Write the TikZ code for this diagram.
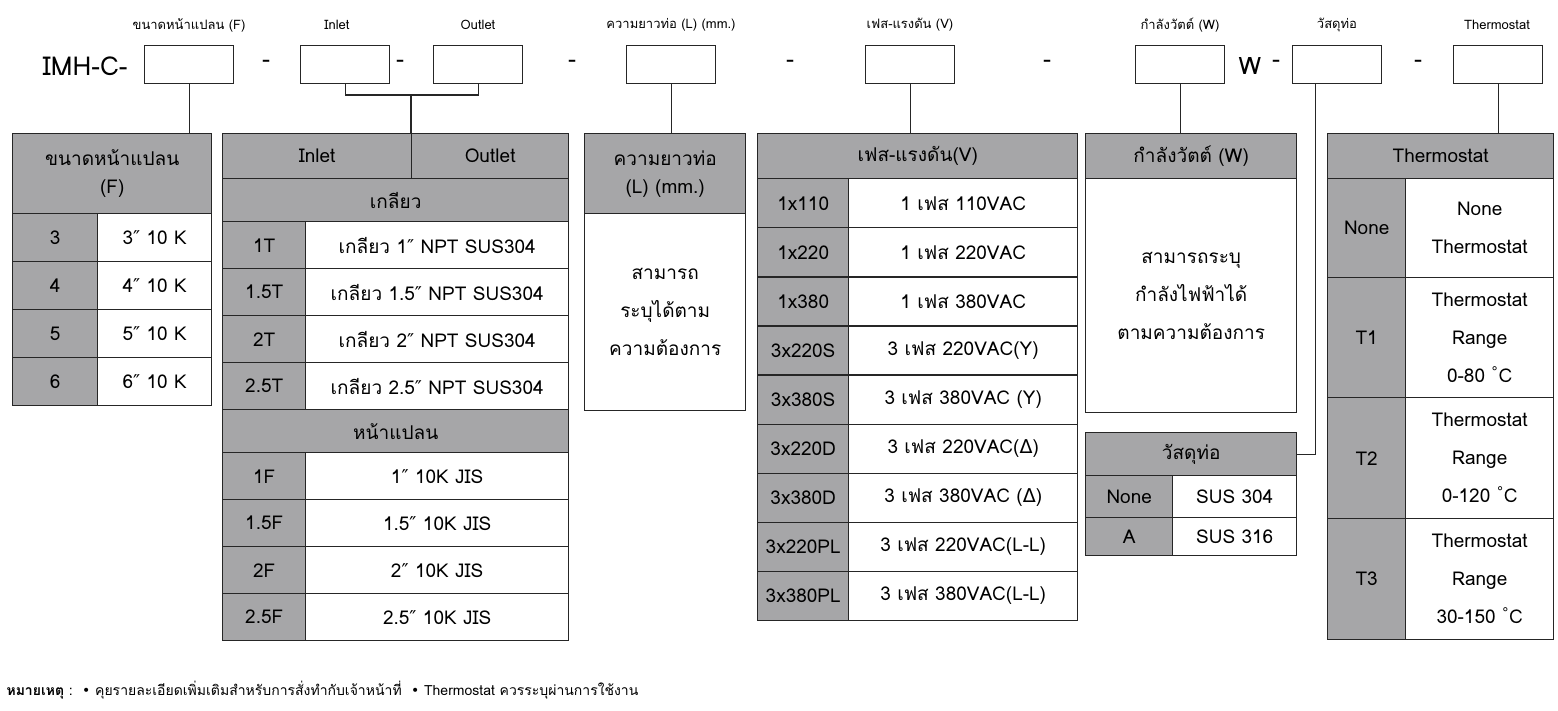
\documentclass[tikz,border=0pt]{standalone}
\usepackage{fontspec}
\setmainfont{Loma}[Script=Thai]
\newfontfamily\symf{DejaVu Sans}
\usetikzlibrary{positioning}

\definecolor{cellgray}{rgb}{0.650000, 0.650000, 0.660000}
\newcommand{\inch}{{\symf\char"2033}}
\newcommand{\dlt}{{\symf\char"0394}}
\newcommand{\degc}{\textsuperscript{\symf\char"00B0}C}

\tikzset{
  box/.style={draw=black!85, line width=1.4pt, fill=white, inner sep=0pt, anchor=north west},
  key/.style={box, fill=cellgray},
  txt/.style={font=\fontsize{19}{38}\selectfont, align=center},
  top/.style={font=\fontsize{13}{15}\selectfont},
  link/.style={draw=black!85, line width=1.4pt}
}

% cell: name, x, y, width, height, style, text
\newcommand{\cell}[7]{\node[#6, txt, minimum width=#4pt, minimum height=#5pt] (#1) at (#2,#3) {#7};}

\begin{document}
\begin{tikzpicture}[x=1pt, y=-1pt]
\useasboundingbox (0,0) rectangle (1558,711);

% top code line
\node[anchor=east, font=\fontsize{26}{28}\selectfont] (code) at (131,66) {IMH-C-};
\foreach \nm/\xx in {b1/144, b2/300, b3/433, b4/626, b5/865, b6/1135, b7/1292, b8/1453}
  \node[box, minimum width=89pt, minimum height=38pt] (\nm) at (\xx,45) {};
\foreach \nm/\xx in {d1/266, d2/400, d3/572, d4/790, d5/1047, d6/1276, d7/1418}
  \node[font=\fontsize{24}{26}\selectfont] (\nm) at (\xx,64) {-};
\node[font=\fontsize{24}{26}\selectfont] (wlet) at (1250,66) {W};

% top labels
\node[top] (lf) at (189,25) {ขนาดหน้าแปลน (F)};
\node[top] (li) at (337,25) {Inlet};
\node[top] (lo) at (478,25) {Outlet};
\node[top] (ll) at (671,25) {ความยาวท่อ (L) (mm.)};
\node[top] (lv) at (910,25) {เฟส-แรงดัน (V)};
\node[top] (lw) at (1180,25) {กำลังวัตต์ (W)};
\node[top] (lm) at (1337,25) {วัสดุท่อ};
\node[top] (lt) at (1497,25) {Thermostat};

% flange table
\cell{fl}{12}{133}{199}{80}{key}{ขนาดหน้าแปลน\\[-10pt](F)}
\foreach \k/\yy in {3/213, 4/261, 5/309, 6/357} {
  \cell{flk\k}{12}{\yy}{85}{48}{key}{\k}
  \cell{flv\k}{97}{\yy}{114}{48}{box}{\k\inch\ 10 K}
}

% inlet / outlet table
\cell{inl}{222}{133}{189}{45}{key}{Inlet}
\cell{outl}{411}{133}{157}{45}{key}{Outlet}
\cell{thr}{222}{178}{346}{43}{key}{เกลียว}
\foreach \k/\s/\yy in {1T/1/221, 1.5T/1.5/268, 2T/2/315, 2.5T/2.5/362} {
  \cell{tk\k}{222}{\yy}{83}{47}{key}{\k}
  \cell{tv\k}{305}{\yy}{263}{47}{box}{เกลียว \s\inch\ NPT SUS304}
}
\cell{fla}{222}{409}{346}{43}{key}{หน้าแปลน}
\foreach \k/\s/\yy in {1F/1/452, 1.5F/1.5/499, 2F/2/546, 2.5F/2.5/593} {
  \cell{fk\k}{222}{\yy}{83}{47}{key}{\k}
  \cell{fv\k}{305}{\yy}{263}{47}{box}{\s\inch\ 10K JIS}
}

% length table
\cell{len}{584}{133}{161}{80}{key}{ความยาวท่อ\\[-10pt](L) (mm.)}
\cell{lenb}{584}{213}{161}{197}{box}{สามารถ\\ระบุได้ตาม\\ความต้องการ}

% voltage table
\cell{vol}{757}{133}{320}{45}{key}{เฟส-แรงดัน(V)}
\foreach \k/\v [count=\i from 0] in {1x110/1 เฟส 110VAC, 1x220/1 เฟส 220VAC, 1x380/1 เฟส 380VAC,
    3x220S/3 เฟส 220VAC(Y), 3x380S/3 เฟส 380VAC (Y), 3x220D/3 เฟส 220VAC(\dlt),
    3x380D/3 เฟส 380VAC (\dlt), 3x220PL/3 เฟส 220VAC(L-L), 3x380PL/3 เฟส 380VAC(L-L)} {
  \cell{vk\i}{757}{178+49.1*\i}{91}{49.1}{key}{\k}
  \cell{vv\i}{848}{178+49.1*\i}{229}{49.1}{box}{\v}
}

% watt table
\cell{wat}{1085}{133}{211}{45}{key}{กำลังวัตต์ (W)}
\cell{watb}{1085}{178}{211}{234}{box}{สามารถระบุ\\กำลังไฟฟ้าได้\\ตามความต้องการ}

% material table
\cell{mat}{1085}{432}{211}{43}{key}{วัสดุท่อ}
\cell{mk1}{1085}{475}{87}{42}{key}{None}
\cell{mv1}{1172}{475}{124}{42}{box}{SUS 304}
\cell{mk2}{1085}{517}{87}{38}{key}{A}
\cell{mv2}{1172}{517}{124}{38}{box}{SUS 316}

% thermostat table
\cell{thm}{1327}{133}{226}{45}{key}{Thermostat}
\cell{tmk0}{1327}{178}{78}{99}{key}{None}
\cell{tmv0}{1405}{178}{148}{99}{box}{None\\Thermostat}
\cell{tmk1}{1327}{277}{78}{120}{key}{T1}
\cell{tmv1}{1405}{277}{148}{120}{box}{Thermostat\\Range\\0-80 \degc}
\cell{tmk2}{1327}{397}{78}{121}{key}{T2}
\cell{tmv2}{1405}{397}{148}{121}{box}{Thermostat\\Range\\0-120 \degc}
\cell{tmk3}{1327}{518}{78}{121}{key}{T3}
\cell{tmv3}{1405}{518}{148}{121}{box}{Thermostat\\Range\\30-150 \degc}

% connectors
\coordinate (brk) at (411,95);
\draw[link] (b1.south) -- (b1.south |- fl.north);
\draw[link] (b2.south) |- (brk) -| (b3.south);
\draw[link] (brk) -- (brk |- inl.north);
\draw[link] (b4.south) -- (b4.south |- len.north);
\draw[link] (b5.south) -- (b5.south |- vol.north);
\draw[link] (b6.south) -- (b6.south |- wat.north);
\draw[link] ([xshift=-22pt]b7.south) |- (mat.east);
\draw[link] (b8.south) -- (b8.south |- thm.north);

% note
\node[anchor=west, font=\fontsize{14}{16}\selectfont] (note) at (3,690)
  {\textbf{หมายเหตุ} :\ \ {\symf•} คุยรายละเอียดเพิ่มเติมสำหรับการสั่งทำกับเจ้าหน้าที่\ \ {\symf•} Thermostat ควรระบุผ่านการใช้งาน};
\end{tikzpicture}
\end{document}
